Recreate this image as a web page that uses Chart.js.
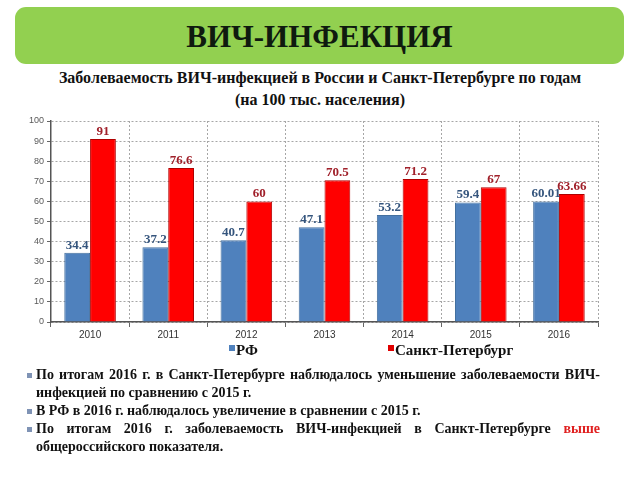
<!DOCTYPE html>
<html>
<head>
<meta charset="utf-8">
<script src="https://cdn.jsdelivr.net/npm/chart.js@4"></script>
<style>
  body { margin: 0; width: 640px; height: 480px; background: #fff; position: relative; overflow: hidden; font-family: "Liberation Serif", serif; }
  .banner { position: absolute; left: 15px; top: 7px; width: 609px; height: 57px; background: #92D050; border-radius: 11px;
    text-align: center; line-height: 60px; font-weight: bold; font-size: 31px; color: #0f1a0f; }
  .subtitle { position: absolute; left: 0; top: 67px; width: 640px; text-align: center; font-weight: bold; font-size: 16px; line-height: 22px; color: #111; }
  #wrap { position: absolute; left: 0; top: 108px; width: 610px; height: 240px; }
  .legend { position: absolute; top: 342px; font-size: 15px; font-weight: bold; color: #111; }
  .legend i { display: inline-block; width: 6px; height: 6px; vertical-align: top; margin-top: 3px; margin-right: 1px; }
  .notes { position: absolute; left: 36px; top: 366px; width: 564px; font-size: 14px; font-weight: bold; line-height: 18px; color: #111; }
  .notes p { margin: 0; text-align: justify; position: relative; }
  .notes p::before { content: ""; position: absolute; left: -9px; top: 7px; width: 5px; height: 5px; background: #7f93b5; }
</style>
</head>
<body>
<div class="banner">ВИЧ-ИНФЕКЦИЯ</div>
<div class="subtitle">Заболеваемость ВИЧ-инфекцией в России и Санкт-Петербурге по годам<br>(на 100 тыс. населения)</div>
<div id="wrap"><canvas id="myChart"></canvas></div>
<div class="legend" style="left:229px"><i style="background:#4F81BD"></i>РФ</div>
<div class="legend" style="left:388px"><i style="background:#E00000"></i>Санкт-Петербург</div>
<div class="notes">
  <p>По итогам 2016 г. в Санкт-Петербурге наблюдалось уменьшение заболеваемости ВИЧ-инфекцией по сравнению с 2015 г.</p>
  <p>В РФ в 2016 г. наблюдалось увеличение в сравнении с 2015 г.</p>
  <p>По итогам 2016 г. заболеваемость ВИЧ-инфекцией в Санкт-Петербурге <span style="color:#e02020">выше</span> общероссийского показателя.</p>
</div>
<script>
// data
const years = ['2010', '2011', '2012', '2013', '2014', '2015', '2016'];
const rf = [34.4, 37.2, 40.7, 47.1, 53.2, 59.4, 60.01];
const spb = [91, 76.6, 60, 70.5, 71.2, 67, 63.66];
const yTicks = [0, 10, 20, 30, 40, 50, 60, 70, 80, 90, 100];

const labelColors = ['#35557d', '#a0202a'];

// value labels above bars
const barLabels = {
  id: 'barLabels',
  afterDatasetsDraw(chart) {
    const ctx = chart.ctx;
    ctx.save();
    ctx.font = 'bold 13px "Liberation Serif"';
    ctx.textAlign = 'center';
    ctx.textBaseline = 'bottom';
    chart.data.datasets.forEach((ds, i) => {
      ctx.fillStyle = labelColors[i];
      chart.getDatasetMeta(i).data.forEach((bar, j) => {
        ctx.fillText(String(ds.data[j]), bar.x, bar.y - 1);
      });
    });
    ctx.restore();
  }
};

const gridColor = '#a6a6a6';

new Chart(document.getElementById('myChart'), {
  type: 'bar',
  data: {
    labels: years,
    datasets: [
      { label: 'РФ', data: rf, backgroundColor: '#4F81BD', borderColor: '#44709f', borderWidth: 1,
        categoryPercentage: 0.66, barPercentage: 1 },
      { label: 'Санкт-Петербург', data: spb, backgroundColor: '#FF0000', borderColor: '#b00000', borderWidth: 1,
        categoryPercentage: 0.66, barPercentage: 1 }
    ]
  },
  options: {
    responsive: true,
    maintainAspectRatio: false,
    animation: false,
    layout: { padding: { top: 13, right: 12 } },
    plugins: { legend: { display: false }, tooltip: { enabled: false } },
    scales: {
      x: {
        grid: {
          color: (c) => c.index === years.length ? 'rgba(0,0,0,0)' : gridColor,
          tickLength: 5, tickColor: '#666'
        },
        border: { color: '#555', width: 1.5, dash: [2, 2] },
        ticks: { color: '#333', font: { family: 'Liberation Sans', size: 10 }, padding: 2 },
        afterFit(s) { s.height = 26; }
      },
      y: {
        min: 0, max: 100,
        afterBuildTicks(s) { s.ticks = yTicks.map(v => ({ value: v })); },
        grid: { color: gridColor, tickLength: 4, tickColor: '#666' },
        border: { color: '#555', width: 1.5, dash: [2, 2] },
        ticks: { color: '#595959', font: { family: 'Liberation Sans', size: 9 }, padding: 3 },
        afterFit(s) { s.width = 51; }
      }
    }
  },
  plugins: [barLabels]
});
</script>
</body>
</html>
